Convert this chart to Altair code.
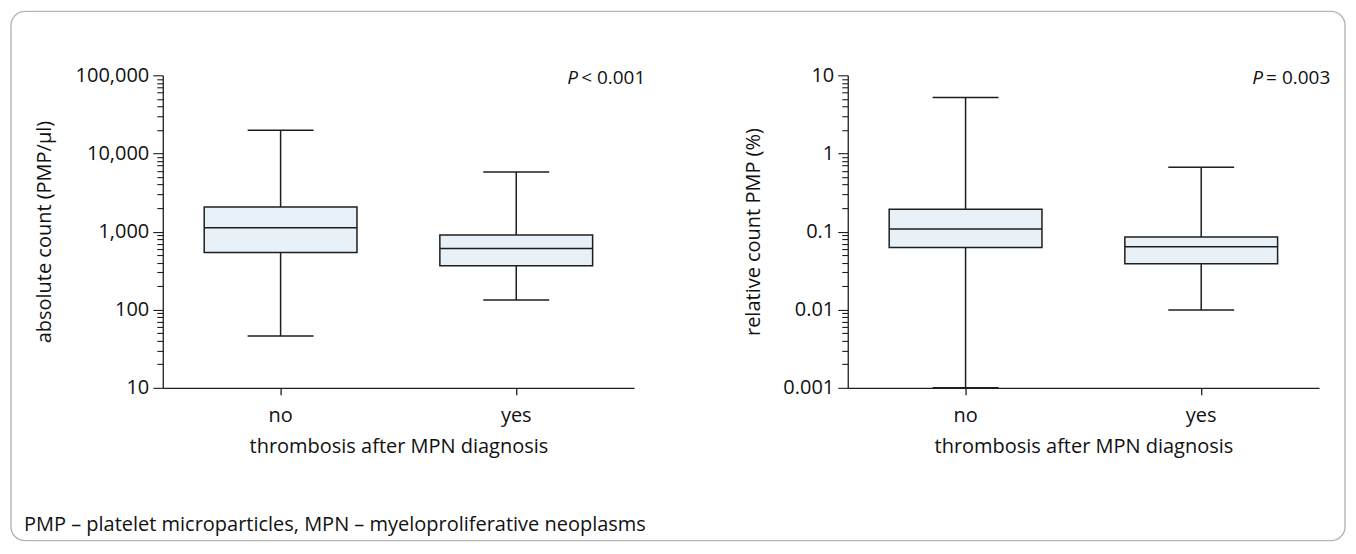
import json
import altair as alt
import pandas as pd

# ---------------- data ----------------
groups = ["no", "yes"]

abs_min = [46, 133]
abs_q1 = [540, 365]
abs_med = [1115, 608]
abs_q3 = [2070, 907]
abs_max = [19800, 5780]

rel_min = [0.001, 0.0099]
rel_q1 = [0.0627, 0.0387]
rel_med = [0.108, 0.0638]
rel_q3 = [0.193, 0.0855]
rel_max = [5.2, 0.664]

abs_ticks = [10, 100, 1000, 10000, 100000]
abs_labels = ["10", "100", "1,000", "10,000", "100,000"]
rel_ticks = [0.001, 0.01, 0.1, 1, 10]
rel_labels = ["0.001", "0.01", "0.1", "1", "10"]

x_title = "thrombosis after MPN diagnosis"
abs_title = "absolute count (PMP/µl)"
rel_title = "relative count PMP (%)"
abs_p = ["P", "< 0.001"]
rel_p = ["P", "= 0.003"]
footnote = ["PMP – platelet microparticles, MPN – myeloproliferative neoplasms"]

# ---------------- style ----------------
FONT = "Open Sans"
INK = "#1e1e1e"
BOX_FILL = "#e8f0f8"
W, H = 472, 313
LW = 1.5
FS = 20


def minor_values(ticks):
    vals = []
    for d in ticks[:-1]:
        for k in range(2, 10):
            vals.append(float(f"{k * d:.6g}"))
    return vals


def label_expr(ticks, labels):
    expr = "''"
    for t, l in reversed(list(zip(ticks, labels))):
        expr = f"datum.value == {t} ? '{l}' : ({expr})"
    return expr


def panel(mins, q1s, meds, q3s, maxs, ticks, labels, ytitle, ptxt, ytp, extra=()):
    df = pd.DataFrame({"group": groups, "lo": mins, "q1": q1s, "med": meds,
                       "q3": q3s, "hi": maxs})
    xaxis = alt.Axis(title=x_title, labelAngle=0, tickSize=7, tickWidth=1.3,
                     tickColor=INK, domainColor=INK, domainWidth=1.3,
                     labelFontSize=FS, labelColor="#111", labelPadding=11,
                     titleFontSize=FS, titleFontWeight="normal", titleColor="#111",
                     titlePadding=11, labelFont=FONT, titleFont=FONT)
    x = alt.X("group:N", sort=groups, scale=alt.Scale(paddingInner=0, paddingOuter=0),
              axis=xaxis)
    yaxis = alt.Axis(title=ytitle, values=ticks + minor_values(ticks),
                     labelExpr=label_expr(ticks, labels),
                     tickSize={"condition": {"test": f"indexof({json.dumps(ticks)}, datum.value) >= 0",
                                             "value": 10}, "value": 6},
                     tickWidth=1.1, tickColor=INK, domainColor=INK, domainWidth=1.3,
                     labelFontSize=FS, labelColor="#111", labelPadding=4,
                     titleFontSize=FS, titleFontWeight="normal", titleColor="#111",
                     titlePadding=ytp, labelFont=FONT, titleFont=FONT, grid=False,
                     labelOverlap=False, labelFlush=False)
    ysc = alt.Scale(type="log", domain=[ticks[0], ticks[-1]])
    base = alt.Chart(df).encode(x=x)
    whisk = base.mark_rule(color=INK, strokeWidth=LW).encode(
        y=alt.Y("lo:Q", scale=ysc, axis=yaxis), y2="hi:Q")
    cap_lo = base.mark_tick(size=66, thickness=LW, color=INK, opacity=1).encode(
        y=alt.Y("lo:Q", scale=ysc, axis=yaxis))
    cap_hi = base.mark_tick(size=66, thickness=LW, color=INK, opacity=1).encode(
        y=alt.Y("hi:Q", scale=ysc, axis=yaxis))
    box = base.mark_bar(size=153, fill=BOX_FILL, stroke=INK, strokeWidth=LW,
                        opacity=1).encode(
        y=alt.Y("q1:Q", scale=ysc, axis=yaxis), y2="q3:Q")
    med = base.mark_tick(size=153, thickness=LW, color=INK, opacity=1).encode(
        y=alt.Y("med:Q", scale=ysc, axis=yaxis))
    pdf = pd.DataFrame({"a": [ptxt[0]], "b": [ptxt[1]]})
    p1 = alt.Chart(pdf).mark_text(font=FONT, fontSize=19, fontStyle="italic", align="left",
                                  baseline="middle", color="#111").encode(
        text="a:N", x=alt.value(405), y=alt.value(3))
    p2 = alt.Chart(pdf).mark_text(font=FONT, fontSize=19, align="left",
                                  baseline="middle", color="#111").encode(
        text="b:N", x=alt.value(419), y=alt.value(3))
    return alt.layer(*extra, whisk, cap_lo, cap_hi, box, med, p1, p2).properties(
        width=W, height=H)


fdf = pd.DataFrame({"t": footnote})
frame = alt.Chart(fdf).mark_rect(fill="transparent", stroke="#b4b4b4", strokeWidth=1.4,
                                 cornerRadius=14).encode(
    x=alt.value(-152), x2=alt.value(1184), y=alt.value(-64), y2=alt.value(466))
foot = alt.Chart(fdf).mark_text(font=FONT, fontSize=FS, align="left", baseline="middle",
                                color="#111").encode(
    text="t:N", x=alt.value(-139), y=alt.value(450))

left = panel(abs_min, abs_q1, abs_med, abs_q3, abs_max, abs_ticks, abs_labels,
             abs_title, abs_p, 21, extra=(frame, foot))
right = panel(rel_min, rel_q1, rel_med, rel_q3, rel_max, rel_ticks, rel_labels,
              rel_title, rel_p, 19)

chart = alt.hconcat(left, right, spacing=214, bounds="flush").properties(
    padding=1, background="white"
).configure(font=FONT, view=alt.ViewConfig(stroke="transparent"))

chart.save("out.html", embed_options={"renderer": "svg", "actions": False})
